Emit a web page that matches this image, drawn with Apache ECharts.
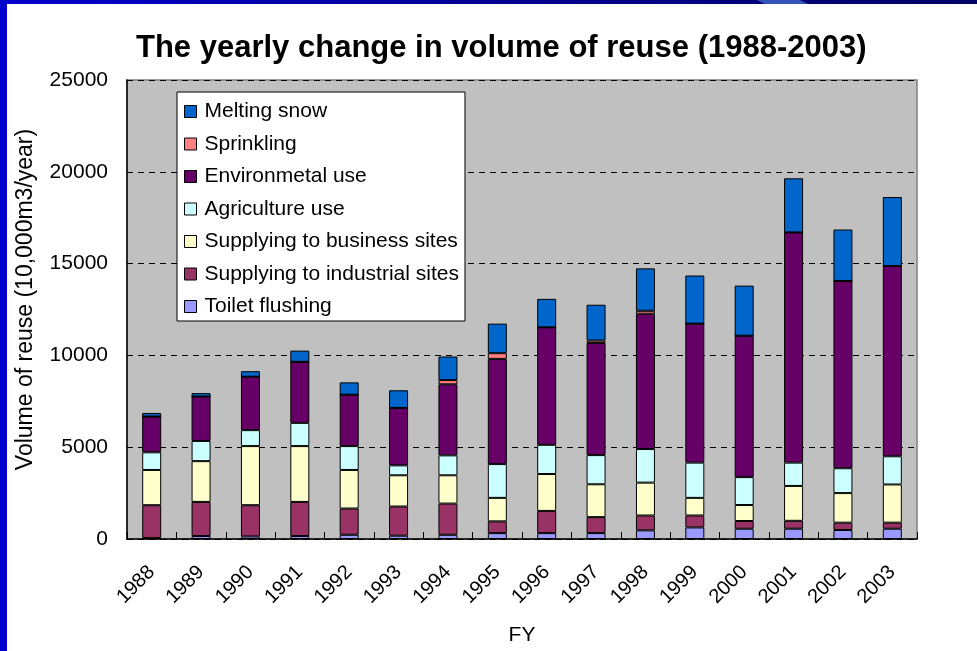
<!DOCTYPE html>
<html>
<head>
<meta charset="utf-8">
<script src="https://cdn.jsdelivr.net/npm/echarts@6/dist/echarts.min.js"></script>
<style>html,body{margin:0;padding:0;background:#fff;}#chart{width:977px;height:651px;}</style>
</head>
<body>
<div id="chart"></div>
<script>
var years = ['1988','1989','1990','1991','1992','1993','1994','1995','1996','1997','1998','1999','2000','2001','2002','2003'];
var toilet      = [50,160,140,160,230,180,230,320,320,320,470,630,560,560,490,560];
var industrial  = [1790,1860,1700,1860,1430,1590,1700,640,1210,870,810,650,420,430,400,330];
var business    = [1920,2220,3220,3040,2100,1700,1540,1280,2010,1790,1790,960,870,1900,1610,2080];
var agriculture = [960,1100,870,1265,1300,540,1085,1840,1590,1590,1830,1920,1520,1270,1355,1535];
var environment = [1950,2420,2910,3325,2800,3130,3870,5730,6400,6110,7370,7570,7700,12540,10200,10360];
var sprinkling  = [0,0,0,0,0,0,230,310,0,130,160,0,0,0,0,0];
var snow        = [195,185,300,610,670,960,1285,1610,1550,1950,2310,2620,2730,2945,2800,3760];
var yTicks = [0,5000,10000,15000,20000,25000];

var seriesDefs = [
  {name:'Toilet flushing', data:toilet, color:'#9999FF'},
  {name:'Supplying to industrial sites', data:industrial, color:'#993366'},
  {name:'Supplying to business sites', data:business, color:'#FFFFCC'},
  {name:'Agriculture use', data:agriculture, color:'#CCFFFF'},
  {name:'Environmetal use', data:environment, color:'#660066'},
  {name:'Sprinkling', data:sprinkling, color:'#FF8080'},
  {name:'Melting snow', data:snow, color:'#0066CC'}
];

var chart = echarts.init(document.getElementById('chart'));
var font = 'Arial, "Liberation Sans", sans-serif';
chart.setOption({
  backgroundColor:'#ffffff',
  animation:false,
  graphic:[
    {type:'rect', left:0, top:0, shape:{width:7, height:651}, style:{fill:'#0000CC'}, z:100},
    {type:'rect', left:0, top:0, shape:{width:977, height:4}, style:{fill:new echarts.graphic.LinearGradient(0,0,1,0,[{offset:0,color:'#0000CC'},{offset:0.6,color:'#00008A'},{offset:1,color:'#000066'}])}, z:100},
    {type:'polygon', shape:{points:[[757,0],[800,0],[808,4],[765,4]]}, style:{fill:'#3355BB'}, z:101}
  ],
  title:{
    text:'The yearly change in volume of reuse (1988-2003)',
    left:131, top:28,
    textStyle:{fontFamily:font, fontSize:31, fontWeight:'bold', color:'#000'}
  },
  legend:{
    orient:'vertical',
    left:177, top:92,
    padding:[9,6,4,7],
    backgroundColor:'#ffffff',
    borderColor:'#000', borderWidth:1,
    itemWidth:12, itemHeight:12, itemGap:11.5,
    icon:'rect',
    itemStyle:{borderColor:'#000', borderWidth:1},
    textStyle:{fontFamily:font, fontSize:21, color:'#000', lineHeight:21, padding:[0,0,0,3]},
    data:['Melting snow','Sprinkling','Environmetal use','Agriculture use','Supplying to business sites','Supplying to industrial sites','Toilet flushing']
  },
  grid:{
    left:127, top:80, width:790, height:461,
    show:true, backgroundColor:'#C0C0C0', borderColor:'#808080', borderWidth:1.5
  },
  xAxis:{
    type:'category', data:years,
    name:'FY', nameLocation:'middle', nameGap:86,
    nameTextStyle:{fontFamily:font, fontSize:21, color:'#000'},
    axisLine:{lineStyle:{color:'#000', width:1.5}},
    axisTick:{show:true, inside:true, length:7, lineStyle:{color:'#000'}},
    axisLabel:{rotate:45, interval:0, margin:30, fontFamily:font, fontSize:20, color:'#000'}
  },
  yAxis:{
    type:'value', min:yTicks[0], max:yTicks[yTicks.length-1], interval:5000,
    name:'Volume of reuse (10,000m3/year)', nameLocation:'middle', nameGap:90,
    nameTextStyle:{fontFamily:font, fontSize:23, color:'#000', padding:[0,0,0,20]},
    axisLine:{show:true, lineStyle:{color:'#000', width:1.5}},
    axisTick:{show:true, inside:true, length:5, lineStyle:{color:'#000'}},
    axisLabel:{margin:19, fontFamily:font, fontSize:21, color:'#000', formatter:function(v){return String(v);}},
    splitLine:{show:true, lineStyle:{color:'#000', type:[6,5], width:1}}
  },
  series:seriesDefs.map(function(s){
    return {
      name:s.name, type:'bar', stack:'total', data:s.data, barWidth:19,
      itemStyle:{color:s.color, borderColor:'#000', borderWidth:1},
      emphasis:{disabled:true}
    };
  })
});
</script>
</body>
</html>
